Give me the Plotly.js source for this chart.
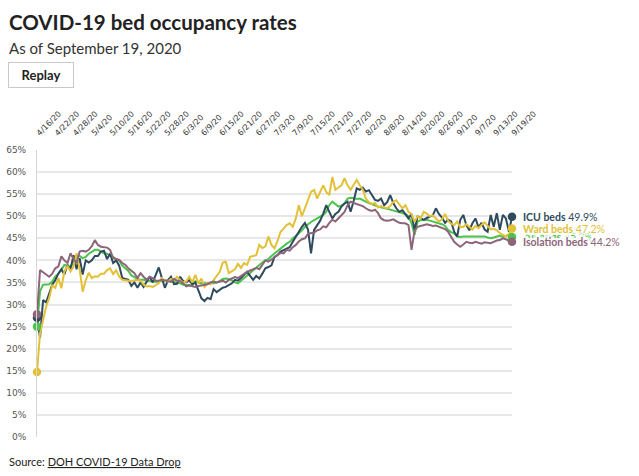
<!DOCTYPE html>
<html>
<head>
<meta charset="utf-8">
<script src="https://cdn.plot.ly/plotly-3.0.1.min.js"></script>
<style>
  html, body { margin: 0; padding: 0; background: #fff; }
  #chart { width: 639px; height: 476px; }
</style>
</head>
<body>
<div id="chart"></div>
<script>
// Daily occupancy rates (%), 16 Apr 2020 – 19 Sep 2020
const startDate = '2020-04-16';

const tickLabels = ['4/16/20','4/22/20','4/28/20','5/4/20','5/10/20','5/16/20','5/22/20','5/28/20',
  '6/3/20','6/9/20','6/15/20','6/21/20','6/27/20','7/3/20','7/9/20','7/15/20','7/21/20','7/27/20',
  '8/2/20','8/8/20','8/14/20','8/20/20','8/26/20','9/1/20','9/7/20','9/13/20','9/19/20'];

const icuBeds = [
  27.0, 22.5, 31.0, 30.5, 32.5, 34.5, 35.5, 37.0, 38.0, 36.8,
  39.0, 38.0, 41.2, 38.0, 40.5, 36.8, 40.0, 39.5, 40.0, 41.0,
  41.0, 42.0, 42.2, 40.3, 41.5, 39.4, 40.0, 38.8, 36.0, 35.8,
  35.6, 34.2, 35.0, 33.8, 35.0, 34.0, 35.2, 36.3, 35.0, 36.5,
  38.4, 36.0, 33.8, 35.5, 36.3, 34.6, 34.7, 36.3, 35.3, 35.0,
  35.5, 34.6, 35.0, 33.2, 31.4, 30.8, 31.5, 31.2, 33.5, 32.8,
  33.3, 33.8, 34.0, 34.4, 34.8, 35.6, 35.4, 36.0, 36.7, 37.4,
  36.5, 35.6, 36.5, 35.9, 37.0, 38.2, 38.5, 38.9, 40.8, 41.2,
  42.0, 42.3, 42.7, 43.0, 44.2, 45.2, 46.5, 47.6, 48.5, 47.0,
  41.6, 46.9, 48.0, 49.0, 50.6, 52.5, 51.0, 49.5, 50.5, 51.0,
  52.2, 52.9, 53.3, 51.0, 53.5, 56.3, 56.0, 56.5, 55.6, 55.9,
  54.8, 53.7, 53.5, 54.0, 52.5, 53.2, 54.8, 53.0, 51.8, 51.0,
  51.4, 50.5, 49.5, 50.5, 46.9, 50.0, 49.5, 49.2, 49.6, 49.9,
  50.2, 51.8, 50.5, 49.7, 48.5, 49.2, 48.8, 46.5, 45.4, 49.2,
  50.3, 48.0, 46.8, 48.4, 49.5, 47.5, 48.5, 47.0, 46.5, 50.3,
  47.6, 50.7, 46.9, 50.3, 49.5, 46.5, 49.9
];

const wardBeds = [
  14.7, 23.5, 26.5, 29.5, 31.5, 34.3, 33.8, 36.0, 33.7, 37.5,
  38.8, 37.5, 38.6, 41.6, 38.0, 32.9, 35.5, 37.2, 36.0, 36.4,
  36.3, 37.0, 37.0, 37.8, 38.2, 36.9, 37.8, 36.3, 35.6, 35.5,
  35.4, 35.3, 35.5, 35.6, 35.4, 34.5, 34.1, 34.2, 34.0, 34.4,
  34.8, 36.0, 35.4, 35.2, 35.8, 35.5, 36.3, 35.5, 35.0, 35.2,
  36.3, 35.0, 36.7, 34.8, 35.9, 34.0, 34.8, 34.6, 35.5, 36.5,
  37.4, 39.5, 39.7, 37.1, 37.5, 38.0, 39.2, 38.3, 39.4, 39.0,
  40.8, 41.0, 41.2, 43.5, 42.8, 43.2, 45.4, 43.5, 42.7, 44.4,
  46.5, 47.2, 48.0, 48.4, 47.6, 49.5, 52.5, 50.0, 51.8, 53.3,
  55.5, 56.0, 54.0, 55.5, 57.0, 55.5, 54.8, 58.9, 56.0, 56.5,
  57.0, 58.6, 57.0, 56.0, 57.0, 58.2, 57.0, 56.0, 54.0, 53.2,
  52.8, 53.0, 52.0, 52.3, 52.0, 51.8, 52.3, 53.2, 53.6, 52.6,
  51.8, 52.5, 51.0, 50.5, 48.8, 50.0, 49.5, 51.0, 50.6, 50.0,
  50.2, 49.5, 48.8, 49.3, 50.5, 49.0, 48.3, 48.0, 48.8, 47.5,
  47.6, 48.2, 47.5, 47.0, 47.8, 47.3, 48.0, 48.6, 47.8, 47.0,
  47.2, 46.8, 46.2, 45.7, 45.4, 46.0, 47.2
];

const allBeds = [
  25.0, 33.0, 34.5, 34.5, 34.6, 35.2, 36.3, 37.0, 37.8, 39.0,
  38.7, 38.6, 39.5, 41.2, 41.0, 40.5, 40.8, 41.5, 42.0, 42.4,
  42.4, 42.0, 41.6, 41.5, 41.2, 40.8, 40.2, 40.0, 38.8, 38.3,
  37.6, 36.6, 36.2, 35.8, 35.6, 35.6, 35.4, 35.4, 35.3, 35.1,
  35.3, 35.4, 35.5, 35.3, 35.2, 35.1, 35.0, 34.8, 34.5, 34.5,
  34.4, 34.3, 35.3, 35.0, 34.8, 34.8, 34.8, 34.7, 34.8, 35.0,
  35.3, 35.8, 35.9, 35.8, 35.5, 35.0, 34.8, 35.4, 36.0, 36.7,
  37.2, 37.8, 38.3, 38.9, 39.5, 40.0, 40.3, 41.0, 41.6, 42.2,
  42.7, 43.2, 43.8, 44.2, 45.0, 45.5, 46.1, 46.8, 47.6, 48.2,
  48.7, 49.1, 49.5, 49.9, 50.3, 51.0, 52.5, 53.3, 52.8, 52.2,
  52.4, 52.9, 54.0, 54.2, 54.1, 53.9, 54.0, 53.6, 53.3, 53.0,
  52.7, 52.4, 52.2, 52.0, 51.9, 51.7, 51.5, 51.3, 51.0, 50.9,
  50.7, 50.5, 50.0, 48.4, 45.8, 48.8, 49.1, 49.2, 49.2, 49.0,
  48.8, 48.6, 48.4, 48.2, 47.8, 46.9, 46.4, 46.1, 45.4, 45.3,
  45.4, 45.4, 45.4, 45.5, 45.4, 45.4, 45.5, 45.4, 45.2, 45.0,
  45.2, 45.4, 45.6, 45.3, 45.6, 45.8, 45.3
];

const isolationBeds = [
  27.8, 37.8, 37.3, 36.8, 36.3, 37.0, 38.2, 38.6, 40.9, 40.0,
  39.4, 41.6, 40.3, 39.4, 42.0, 42.2, 42.0, 42.4, 43.2, 44.6,
  43.5, 43.1, 43.0, 42.9, 42.4, 40.5, 40.3, 40.1, 39.4, 39.0,
  38.2, 37.6, 37.1, 36.0, 37.1, 36.3, 35.6, 36.3, 36.0, 35.4,
  35.4, 35.6, 35.4, 35.3, 35.2, 35.8, 35.4, 35.3, 34.8, 34.1,
  34.3, 34.2, 34.0, 34.2, 34.3, 34.4, 34.6, 35.0, 35.2, 35.0,
  35.2, 35.4, 35.0, 35.6, 35.9, 36.2, 36.0, 36.5, 37.0, 37.4,
  37.7, 38.0, 38.3, 38.0, 38.9, 40.0, 39.7, 40.2, 40.5, 41.0,
  41.7, 41.6, 42.4, 42.2, 43.0, 43.5, 44.3, 44.8, 45.0, 46.0,
  46.2, 46.3, 46.8, 47.0, 47.7, 47.5, 48.5, 49.2, 48.8, 49.5,
  50.3, 51.0, 52.5, 53.3, 53.0, 52.8, 52.6, 52.3, 51.8, 51.4,
  51.2, 51.5, 50.7, 49.5, 49.1, 49.0, 49.1, 49.3, 48.9, 48.5,
  48.4, 48.4, 48.0, 42.4, 46.8, 47.6, 47.8, 48.0, 48.2, 48.0,
  47.8, 47.9, 47.6, 47.3, 47.1, 46.5, 45.4, 44.2, 43.6, 43.1,
  43.6, 44.2, 44.0, 43.9, 44.2, 44.0, 43.8, 44.1, 44.0, 43.9,
  44.2, 44.5, 44.6, 45.0, 44.8, 44.4, 44.2
];

// Series in drawing order (later ones sit on top)
const seriesNames  = ['All beds', 'ICU beds', 'Ward beds', 'Isolation beds'];
const seriesValues = [allBeds, icuBeds, wardBeds, isolationBeds];
const seriesColors = ['#4cc34c', '#2e4a5d', '#e2c137', '#8c6579'];

// One date per reading, counted from the first day
function isoDay(offset) {
  const d = new Date(startDate + 'T00:00:00Z');
  d.setUTCDate(d.getUTCDate() + offset);
  return d.toISOString().slice(0, 10);
}
const dates = icuBeds.map((_, i) => isoDay(i));

function labelToIso(lbl) {
  const [m, d, y] = lbl.split('/');
  return '20' + y + '-' + m.padStart(2, '0') + '-' + d.padStart(2, '0');
}
const tickVals = tickLabels.map(labelToIso);

// Plot area in pixels
const W = 639, H = 476;
const plotL = 37, plotR = 512, plotT = 150, plotB = 437;
const px = x => (x - plotL) / (plotR - plotL);
const py = y => (plotB - y) / (plotB - plotT);

const traces = [];
seriesValues.forEach((vals, k) => {
  traces.push({
    type: 'scatter', mode: 'lines', x: dates, y: vals,
    line: { color: seriesColors[k], width: 2 },
    hoverinfo: 'skip', showlegend: false, cliponaxis: false
  });
});
seriesValues.forEach((vals, k) => {
  const last = vals.length - 1;
  traces.push({
    type: 'scatter', mode: 'markers',
    x: [dates[0], dates[last]], y: [vals[0], vals[last]],
    marker: { color: seriesColors[k], size: 8.5 },
    hoverinfo: 'skip', showlegend: false, cliponaxis: false
  });
});

// White halo round the end labels so that close labels stay readable
const halo = [
  '2px 0 0 #fff', '-2px 0 0 #fff', '0 2px 0 #fff', '0 -2px 0 #fff',
  '2px 2px 0 #fff', '-2px -2px 0 #fff', '2px -2px 0 #fff', '-2px 2px 0 #fff',
  '1px 0 0 #fff', '-1px 0 0 #fff', '0 1px 0 #fff', '0 -1px 0 #fff'
].join(', ');

const annotations = [
  { text: '<b>COVID-19 bed occupancy rates</b>', xref: 'paper', yref: 'paper',
    x: px(7), y: py(22), xanchor: 'left', yanchor: 'middle', showarrow: false,
    font: { family: 'Lato', size: 20.5, color: '#222' } },
  { text: 'As of September 19, 2020', xref: 'paper', yref: 'paper',
    x: px(7), y: py(48), xanchor: 'left', yanchor: 'middle', showarrow: false,
    font: { family: 'Lato', size: 15, color: '#333' } },
  { text: '<b>Replay</b>', xref: 'paper', yref: 'paper',
    x: px(41), y: py(75), xanchor: 'center', yanchor: 'middle', showarrow: false,
    width: 62, height: 22, borderpad: 1, borderwidth: 1, bordercolor: '#c9c9c9',
    bgcolor: '#fff', font: { family: 'Lato', size: 13, color: '#222' } },
  { text: 'Source: <span style="text-decoration:underline">DOH COVID-19 Data Drop</span>',
    xref: 'paper', yref: 'paper', x: px(7), y: py(461), xanchor: 'left', yanchor: 'middle',
    showarrow: false, font: { family: 'Lato', size: 11, color: '#222' } }
];

// End labels, one per series, stating its last reading
seriesValues.forEach((vals, k) => {
  const v = vals[vals.length - 1];
  annotations.push({
    text: '<b>' + seriesNames[k] + '</b> ' + v.toFixed(1) + '%',
    xref: 'paper', yref: 'y', x: px(521), y: v,
    xanchor: 'left', yanchor: 'middle', showarrow: false,
    font: { family: 'Lato', size: 10.5, color: seriesColors[k], shadow: halo }
  });
});

const layout = {
  width: W, height: H,
  margin: { l: plotL, r: W - plotR, t: plotT, b: H - plotB, pad: 0 },
  paper_bgcolor: '#fff', plot_bgcolor: '#fff',
  showlegend: false, hovermode: false,
  xaxis: {
    type: 'date', range: [dates[0], dates[dates.length - 1]],
    side: 'top', tickmode: 'array', tickvals: tickVals, ticktext: tickLabels,
    tickangle: -45, ticks: '', showgrid: false, zeroline: false, showline: false,
    ticklabelstandoff: 10,
    tickfont: { family: 'DejaVu Sans', size: 8, color: '#333' }
  },
  yaxis: {
    range: [0, 65], dtick: 5, tick0: 0, ticksuffix: '%',
    showgrid: true, gridcolor: '#e7e7e7', gridwidth: 2,
    showline: true, linecolor: '#d6d6d6', linewidth: 1,
    zeroline: false, ticks: '', ticklabelstandoff: 8,
    tickfont: { family: 'DejaVu Sans', size: 9, color: '#555' }
  },
  annotations: annotations
};

Plotly.newPlot('chart', traces, layout, { displayModeBar: false, staticPlot: true });
</script>
</body>
</html>
